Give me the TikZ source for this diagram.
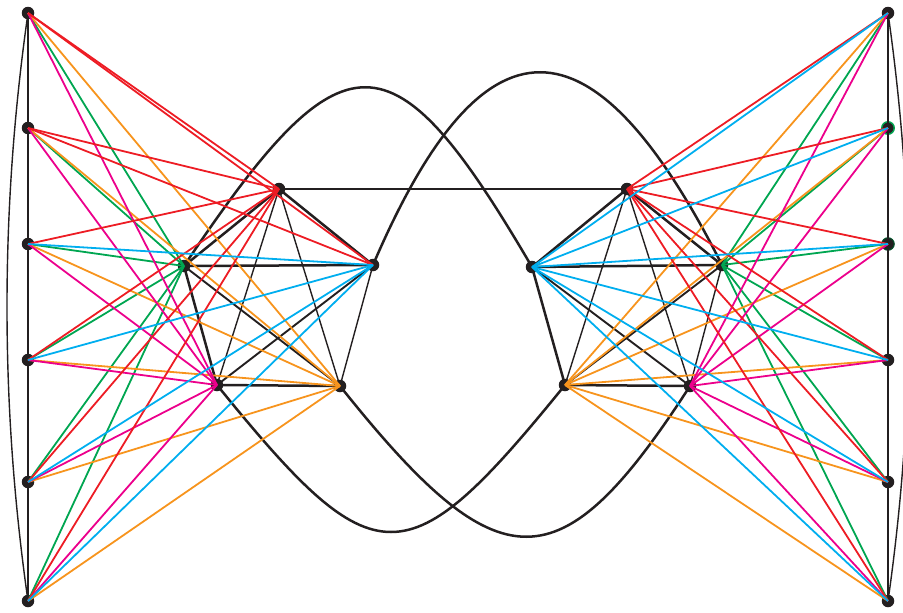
\documentclass[tikz,border=0pt]{standalone}
\usetikzlibrary{calc}
\definecolor{ered}{HTML}{ED1C24}
\definecolor{egreen}{HTML}{00A651}
\definecolor{eblue}{HTML}{00AEEF}
\definecolor{emag}{HTML}{EC008C}
\definecolor{eorange}{HTML}{F7941D}
\definecolor{eblack}{HTML}{231F20}

\begin{document}
\begin{tikzpicture}[x=1pt,y=-1pt,
   vtx/.style={circle,fill=eblack,inner sep=0pt,minimum size=12.5pt},
   thk/.style={eblack,line width=2.5pt},
   mid/.style={eblack,line width=1.9pt},
   thn/.style={eblack,line width=1.4pt},
   col/.style={line width=1.8pt}]
  \useasboundingbox (0,0) rectangle (903,613);
  \foreach \i/\y in {1/13,2/128,3/244,4/360,5/482,6/601}{
    \node[vtx] (l\i) at (28,\y) {};
    \node[vtx] (r\i) at (888,\y) {};
  }
  \node[vtx,draw=egreen,line width=1.4pt] at (r2) {};
  \node[vtx,draw=egreen!50!black,line width=1pt] at (r3) {};
  \node[vtx] (pa) at (279,189) {};
  \node[vtx] (pb) at (184,266) {};
  \node[vtx] (pc) at (373,265) {};
  \node[vtx] (pd) at (217,385) {};
  \node[vtx] (pe) at (340,386) {};
  \node[vtx] (qa) at (627,189) {};
  \node[vtx] (qb) at (532,267) {};
  \node[vtx] (qc) at (722,265) {};
  \node[vtx] (qd) at (565,385) {};
  \node[vtx] (qe) at (690,386) {};

  \draw[thk] (l1.center) -- (l6.center);
  \draw[thk] (r1.center) -- (r6.center);
  \draw[thn] (l1.center) .. controls +(-28,196) and +(-28,-196) .. (l6.center);
  \draw[thn] (r1.center) .. controls +(28,196) and +(28,-196) .. (r6.center);

  \foreach \p in {p,q}{
    \draw[thk] (\p b.center) -- (\p a.center) -- (\p c.center) -- (\p b.center)
      -- (\p d.center) -- (\p e.center);
    \draw[thn] (\p d.center) -- (\p a.center) -- (\p e.center) -- (\p c.center);
  }
  \draw[mid] (pb.center) -- (pe.center) (pc.center) -- (pd.center);
  \draw[mid] (qc.center) -- (qd.center) (qb.center) -- (qe.center);
  \draw[thk] (pa.center) -- (qa.center);
  \draw[thk] (pb.center) .. controls +(160,-239) and +(-140,-239) .. (qb.center);
  \draw[thk] (pc.center) .. controls +(110,-257) and +(-130,-257) .. (qc.center);
  \draw[thk] (pd.center) .. controls +(159,196) and +(-159,196) .. (qd.center);
  \draw[thk] (pe.center) .. controls +(160,201) and +(-130,201) .. (qe.center);

  \foreach \v/\cc in {pb/egreen,pe/eorange,pd/emag,pa/ered}
    \foreach \i in {1,...,6}
      \draw[col,\cc] (\v.center) -- (l\i.center);
  \foreach \i/\cc in {1/ered,2/ered,3/eblue,4/eblue,5/eblue,6/eblue}
    \draw[col,\cc] (pc.center) -- (l\i.center);
  \foreach \v/\cc in {qc/egreen,qd/eorange,qe/emag,qa/ered,qb/eblue}
    \foreach \i in {1,...,6}
      \draw[col,\cc] (\v.center) -- (r\i.center);
\end{tikzpicture}
\end{document}
